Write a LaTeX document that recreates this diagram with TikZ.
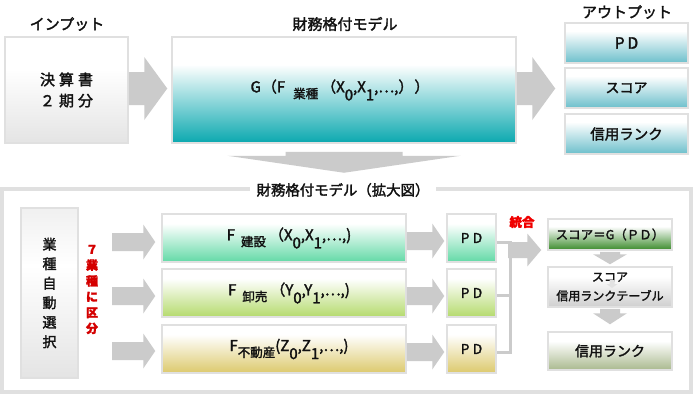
\documentclass[tikz,border=0pt]{standalone}
\usepackage{fontspec}
\setmainfont{Noto Sans CJK JP}[FakeBold=2]
\usetikzlibrary{calc}
\definecolor{bord}{HTML}{E0E0E0}
\definecolor{agray}{HTML}{CBCBCB}
\definecolor{faint}{HTML}{E2E2E2}
\definecolor{tealB}{HTML}{0AA8AF}
\definecolor{outB}{HTML}{6CBFCB}
\definecolor{inB}{HTML}{E4E4E4}
\definecolor{selT}{HTML}{F0F0F0}
\definecolor{f1B}{HTML}{62D9A6}
\definecolor{f2B}{HTML}{B4DA6C}
\definecolor{f3B}{HTML}{DCC96C}
\definecolor{r1B}{HTML}{3A8A2A}
\definecolor{r2B}{HTML}{CFCFCF}
\definecolor{r3B}{HTML}{A9B98E}
\definecolor{redT}{HTML}{D40000}
\definecolor{redU}{HTML}{F00000}
\definecolor{txt}{HTML}{111111}
\newcommand\mkshade[3]{\pgfdeclareverticalshading{#1}{100bp}{color(0bp)=(#2); color(25bp)=(#2); color(#3bp)=(white); color(100bp)=(white)}}
\mkshade{shModel}{tealB}{62}
\mkshade{shOut}{outB}{65}
\mkshade{shIn}{inB}{60}
\mkshade{shFa}{f1B}{65}
\mkshade{shFb}{f2B}{65}
\mkshade{shFc}{f3B}{65}
\mkshade{shRa}{r1B}{63}
\mkshade{shRb}{r2B}{63}
\mkshade{shRc}{r3B}{63}
\pgfdeclareverticalshading{shSel}{100bp}{color(0bp)=(inB); color(25bp)=(inB); color(58bp)=(white); color(75bp)=(selT); color(100bp)=(selT)}
% fat arrows: [colour]{start}{end}{shaft half}{head half}{head length}
\newcommand\fatR[6][agray]{%
  \fill[#1] let \p1=(#2), \p2=(#3) in
   (\x1,{\y1+#4pt}) -- ({\x2-#6pt},{\y1+#4pt}) -- ({\x2-#6pt},{\y1+#5pt}) -- (\x2,\y1)
   -- ({\x2-#6pt},{\y1-#5pt}) -- ({\x2-#6pt},{\y1-#4pt}) -- (\x1,{\y1-#4pt}) -- cycle;}
\newcommand\fatD[6][agray]{%
  \fill[#1] let \p1=(#2), \p2=(#3) in
   ({\x1-#4pt},\y1) -- ({\x1+#4pt},\y1) -- ({\x1+#4pt},{\y2+#6pt}) -- ({\x1+#5pt},{\y2+#6pt}) -- (\x1,\y2)
   -- ({\x1-#5pt},{\y2+#6pt}) -- ({\x1-#4pt},{\y2+#6pt}) -- cycle;}
\newcommand\lsub[1]{\raisebox{-6pt}{\fontsize{12.5}{12.5}\selectfont #1}}
\newcommand\nsub[1]{\raisebox{-8pt}{#1}}
\begin{document}
\begin{tikzpicture}[x=1pt,y=-1pt,
  box/.style={draw=bord, line width=1.5pt, inner sep=0pt, text=txt, shade},
  ttl/.style={font=\fontsize{15}{15}\selectfont, text=txt, inner sep=1pt},
  conn/.style={draw=agray, line width=3pt}]
\useasboundingbox (0,0) rectangle (694,399);
\fill[white] (0,0) rectangle (694,399);
% top row
\node[ttl] (tin) at (67,24) {インプット};
\node[ttl] (tmodel) at (345,24) {財務格付モデル};
\node[ttl] (tout) at (627,12) {アウトプット};
\node[box, shading=shIn, minimum width=123, minimum height=106, align=center, font=\fontsize{15}{21}\selectfont] (input) at (66.5,90) {決\hspace{4pt}算\hspace{4pt}書\\２\hspace{4pt}期\hspace{4pt}分};
\node[box, shading=shModel, minimum width=344, minimum height=106, font=\fontsize{15}{15}\selectfont] (model) at (344,90) {\hspace{-8pt}G\hspace{1pt}（F\hspace{8pt}\lsub{業種}\hspace{3pt}（X\nsub{0},X\nsub{1},…,）\hspace{1pt}）};
\node[box, shading=shOut, minimum width=123, minimum height=40, font=\fontsize{15.5}{15.5}\selectfont] (out1) at (626.5,43) {P\hspace{3pt}D};
\node[box, shading=shOut, minimum width=123, minimum height=40, font=\fontsize{14}{14}\selectfont] (out2) at (626.5,88) {スコア};
\node[box, shading=shOut, minimum width=123, minimum height=40, font=\fontsize{14.5}{14.5}\selectfont] (out3) at (626.5,134) {信用ランク};
\fatR{$(input.east)+(0,-1.5)$}{$(model.west)+(-4,0)$}{16.5}{31.5}{23}
\fatR{$(model.east)+(0,-1.5)$}{$(out2.west)+(-9,0)$}{16.5}{31.5}{23}
% lower frame
\node[draw=bord, line width=4pt, minimum width=689, minimum height=203, inner sep=0pt] (frame) at (346.5,290.5) {};
\node[ttl, fill=white, inner xsep=7pt, font=\fontsize{14.4}{14.4}\selectfont] (ftitle) at (343,190) {財務格付モデル（拡大図）};
\fatD{$(model.south)+(0,8)$}{$(model.south)+(0,29)$}{58.5}{116.5}{17}
% selection
\node[box, shading=shSel, minimum width=57, minimum height=170, align=center, font=\fontsize{14}{19.5}\selectfont] (sel) at (49.5,293) {業\\種\\自\\動\\選\\択};
\node[font=\fontsize{12}{15.8}\selectfont\bfseries, text=redT, align=center, inner sep=0pt] (seven) at (92,289.5) {７\\業\\種\\に\\区\\分};
% F boxes
\node[box, shading=shFa, minimum width=244, minimum height=48, font=\fontsize{15}{15}\selectfont] (f1) at (284,238) {\hspace{10pt}F\hspace{6pt}\lsub{建設}\hspace{3pt}（X\nsub{0},X\nsub{1},…,)};
\node[box, shading=shFb, minimum width=244, minimum height=48, font=\fontsize{15}{15}\selectfont] (f2) at (284,293) {\hspace{10pt}F\hspace{6pt}\lsub{卸売}\hspace{3pt}（Y\nsub{0},Y\nsub{1},…,)};
\node[box, shading=shFc, minimum width=244, minimum height=48, font=\fontsize{15}{15}\selectfont] (f3) at (284,349) {\hspace{10pt}F\lsub{不動産}(Z\nsub{0},Z\nsub{1},…,)};
\coordinate (ls1) at (112,242);
\coordinate (ls2) at (112,296);
\coordinate (ls3) at (112,351);
\fatR{ls1}{$(f1.west)+(-6,0)$}{9}{17.5}{12}
\fatR{ls2}{$(f2.west)+(-6,0)$}{9}{17.5}{12}
\fatR{ls3}{$(f3.west)+(-6,0)$}{9}{17.5}{12}
% PD boxes
\node[box, shading=shFa, minimum width=49, minimum height=48, font=\fontsize{13.5}{13.5}\selectfont] (p1) at (471.5,238) {P\hspace{3.5pt}D};
\node[box, shading=shFb, minimum width=49, minimum height=48, font=\fontsize{13.5}{13.5}\selectfont] (p2) at (471.5,293) {P\hspace{3.5pt}D};
\node[box, shading=shFc, minimum width=49, minimum height=48, font=\fontsize{13.5}{13.5}\selectfont] (p3) at (471.5,349) {P\hspace{3.5pt}D};
\fatR{$(f1.east)+(0,3)$}{$(p1.west)+(-2,0)$}{9}{17.5}{12}
\fatR{$(f2.east)+(0,3)$}{$(p2.west)+(-2,0)$}{9}{17.5}{12}
\fatR{$(f3.east)+(0,3)$}{$(p3.west)+(-2,0)$}{9}{17.5}{12}
% merge connectors
\draw[conn] ($(p1.east)+(0,4)$) -- ++(14,0) coordinate (jtop) |- ($(p3.east)+(0,3)$);
\draw[conn] ($(p2.east)+(0,2)$) -- ++(14,0);
\coordinate (jm) at (508,250);
% right column
\node[box, shading=shRa, minimum width=124, minimum height=31, font=\fontsize{12.5}{12.5}\selectfont] (r1) at (610,234.5) {スコア＝G（ＰＤ）};
\node[box, shading=shRb, minimum width=124, minimum height=40, align=center, font=\fontsize{12}{19}\selectfont] (r2) at (610,287) {スコア\\信用ランクテーブル};
\node[box, shading=shRc, minimum width=124, minimum height=38, font=\fontsize{14}{14}\selectfont] (r3) at (610,351) {信用ランク};
\fatR{jm}{$(r1.west)+(-6,0)$}{8}{16.5}{14}
\node[font=\fontsize{12.5}{12.5}\selectfont\bfseries, text=redU, inner sep=0pt] (merge) at (522,222) {統合};
\fatD{$(r1.south)+(0,1)$}{$(r2.north)+(0,-2)$}{10}{17}{10}
\fatD{$(r2.south)+(0,1)$}{$(r3.north)+(0,-7)$}{10}{17}{11}
\fatD[faint]{$(r2.center)+(2,-7)$}{$(r2.center)+(2,1)$}{2.5}{5.5}{4}
\end{tikzpicture}
\end{document}
